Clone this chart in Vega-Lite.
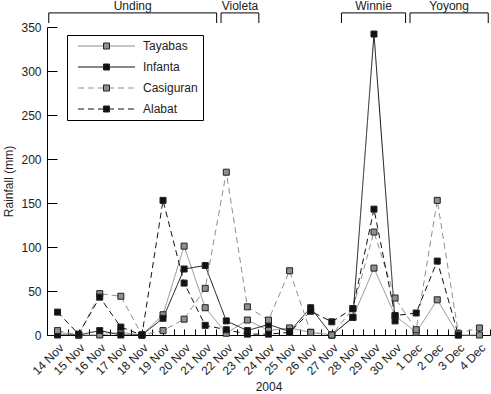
{
  "$schema": "https://vega.github.io/schema/vega-lite/v6.json",
  "width": 443,
  "height": 308,
  "autosize": {"type": "none"},
  "padding": {"left": 47, "top": 27, "right": 1, "bottom": 59},
  "config": {
    "font": "Liberation Sans",
    "view": {"stroke": null},
    "axis": {"grid": false, "domainColor": "#000", "tickColor": "#000", "labelColor": "#222", "titleColor": "#222", "labelFontSize": 12, "titleFontSize": 12, "titleFontWeight": "normal", "labelFont": "Liberation Sans", "titleFont": "Liberation Sans"},
    "legend": {"labelFont": "Liberation Sans"}
  },
  "datasets": {
    "rain": [
      {"date": "2004-11-14", "station": "Tayabas", "rain": 3},
      {"date": "2004-11-15", "station": "Tayabas", "rain": 0},
      {"date": "2004-11-16", "station": "Tayabas", "rain": 0},
      {"date": "2004-11-17", "station": "Tayabas", "rain": 3},
      {"date": "2004-11-18", "station": "Tayabas", "rain": 0},
      {"date": "2004-11-19", "station": "Tayabas", "rain": 23},
      {"date": "2004-11-20", "station": "Tayabas", "rain": 101},
      {"date": "2004-11-21", "station": "Tayabas", "rain": 31},
      {"date": "2004-11-22", "station": "Tayabas", "rain": 2},
      {"date": "2004-11-23", "station": "Tayabas", "rain": 17},
      {"date": "2004-11-24", "station": "Tayabas", "rain": 5},
      {"date": "2004-11-25", "station": "Tayabas", "rain": 8},
      {"date": "2004-11-26", "station": "Tayabas", "rain": 3},
      {"date": "2004-11-27", "station": "Tayabas", "rain": 0},
      {"date": "2004-11-28", "station": "Tayabas", "rain": 20},
      {"date": "2004-11-29", "station": "Tayabas", "rain": 76},
      {"date": "2004-11-30", "station": "Tayabas", "rain": 22},
      {"date": "2004-12-01", "station": "Tayabas", "rain": 3},
      {"date": "2004-12-02", "station": "Tayabas", "rain": 40},
      {"date": "2004-12-03", "station": "Tayabas", "rain": 0},
      {"date": "2004-12-04", "station": "Tayabas", "rain": 0},
      {"date": "2004-11-14", "station": "Infanta", "rain": 0},
      {"date": "2004-11-15", "station": "Infanta", "rain": 0},
      {"date": "2004-11-16", "station": "Infanta", "rain": 5},
      {"date": "2004-11-17", "station": "Infanta", "rain": 0},
      {"date": "2004-11-18", "station": "Infanta", "rain": 0},
      {"date": "2004-11-19", "station": "Infanta", "rain": 19},
      {"date": "2004-11-20", "station": "Infanta", "rain": 75},
      {"date": "2004-11-21", "station": "Infanta", "rain": 79},
      {"date": "2004-11-22", "station": "Infanta", "rain": 16},
      {"date": "2004-11-23", "station": "Infanta", "rain": 5},
      {"date": "2004-11-24", "station": "Infanta", "rain": 12},
      {"date": "2004-11-25", "station": "Infanta", "rain": 4},
      {"date": "2004-11-26", "station": "Infanta", "rain": 31},
      {"date": "2004-11-27", "station": "Infanta", "rain": 0},
      {"date": "2004-11-28", "station": "Infanta", "rain": 20},
      {"date": "2004-11-29", "station": "Infanta", "rain": 342},
      {"date": "2004-11-30", "station": "Infanta", "rain": 16},
      {"date": "2004-11-14", "station": "Casiguran", "rain": 5},
      {"date": "2004-11-15", "station": "Casiguran", "rain": 0},
      {"date": "2004-11-16", "station": "Casiguran", "rain": 47},
      {"date": "2004-11-17", "station": "Casiguran", "rain": 44},
      {"date": "2004-11-18", "station": "Casiguran", "rain": 0},
      {"date": "2004-11-19", "station": "Casiguran", "rain": 5},
      {"date": "2004-11-20", "station": "Casiguran", "rain": 18},
      {"date": "2004-11-21", "station": "Casiguran", "rain": 53},
      {"date": "2004-11-22", "station": "Casiguran", "rain": 185},
      {"date": "2004-11-23", "station": "Casiguran", "rain": 32},
      {"date": "2004-11-24", "station": "Casiguran", "rain": 17},
      {"date": "2004-11-25", "station": "Casiguran", "rain": 73},
      {"date": "2004-11-26", "station": "Casiguran", "rain": 3},
      {"date": "2004-11-27", "station": "Casiguran", "rain": 0},
      {"date": "2004-11-28", "station": "Casiguran", "rain": 30},
      {"date": "2004-11-29", "station": "Casiguran", "rain": 117},
      {"date": "2004-11-30", "station": "Casiguran", "rain": 42},
      {"date": "2004-12-01", "station": "Casiguran", "rain": 6},
      {"date": "2004-12-02", "station": "Casiguran", "rain": 153},
      {"date": "2004-12-03", "station": "Casiguran", "rain": 2},
      {"date": "2004-12-04", "station": "Casiguran", "rain": 8},
      {"date": "2004-11-14", "station": "Alabat", "rain": 26},
      {"date": "2004-11-15", "station": "Alabat", "rain": 1},
      {"date": "2004-11-16", "station": "Alabat", "rain": 43},
      {"date": "2004-11-17", "station": "Alabat", "rain": 9},
      {"date": "2004-11-18", "station": "Alabat", "rain": 0},
      {"date": "2004-11-19", "station": "Alabat", "rain": 153},
      {"date": "2004-11-20", "station": "Alabat", "rain": 59},
      {"date": "2004-11-21", "station": "Alabat", "rain": 11},
      {"date": "2004-11-22", "station": "Alabat", "rain": 6},
      {"date": "2004-11-23", "station": "Alabat", "rain": 1},
      {"date": "2004-11-24", "station": "Alabat", "rain": 1},
      {"date": "2004-11-25", "station": "Alabat", "rain": 3},
      {"date": "2004-11-26", "station": "Alabat", "rain": 27},
      {"date": "2004-11-27", "station": "Alabat", "rain": 15},
      {"date": "2004-11-28", "station": "Alabat", "rain": 30},
      {"date": "2004-11-29", "station": "Alabat", "rain": 143},
      {"date": "2004-11-30", "station": "Alabat", "rain": 22},
      {"date": "2004-12-01", "station": "Alabat", "rain": 25},
      {"date": "2004-12-02", "station": "Alabat", "rain": 84},
      {"date": "2004-12-03", "station": "Alabat", "rain": 0}
    ],
    "storms": [
      {"name": "Unding", "start": "2004-11-13T14:00:00Z", "end": "2004-11-21T13:00:00Z", "mid": "2004-11-17T13:30:00Z"},
      {"name": "Violeta", "start": "2004-11-21T18:00:00Z", "end": "2004-11-23T13:00:00Z", "mid": "2004-11-22T15:30:00Z"},
      {"name": "Winnie", "start": "2004-11-27T11:00:00Z", "end": "2004-11-30T12:00:00Z", "mid": "2004-11-28T23:30:00Z"},
      {"name": "Yoyong", "start": "2004-11-30T17:00:00Z", "end": "2004-12-04T10:00:00Z", "mid": "2004-12-02T13:30:00Z"}
    ]
  },
  "layer": [
    {
      "data": {"name": "rain"},
      "mark": {"type": "line", "strokeWidth": 1},
      "encoding": {
        "x": {
          "field": "date", "type": "temporal", "title": "2004",
          "scale": {"type": "utc", "domain": [{"year": 2004, "month": 11, "date": 13, "hours": 12, "utc": true}, {"year": 2004, "month": 12, "date": 4, "hours": 12, "utc": true}]},
          "axis": {
            "tickCount": 42,
            "tickSize": -6,
            "labelPadding": 13,
            "labelAngle": -45,
            "labelExpr": "utchours(datum.value) == 0 ? utcFormat(datum.value, '%-d %b') : ''",
            "labelOverlap": false,
            "labelFlush": false,
            "labelBound": false,
            "titlePadding": 5
          }
        },
        "y": {
          "field": "rain", "type": "quantitative", "title": "Rainfall (mm)",
          "scale": {"domain": [0, 350], "nice": false, "zero": true},
          "axis": {"values": [0, 50, 100, 150, 200, 250, 300, 350], "tickSize": -10, "labelPadding": 16, "titlePadding": 5}
        },
        "stroke": {
          "field": "station", "type": "nominal",
          "scale": {"domain": ["Tayabas", "Infanta", "Casiguran", "Alabat"], "range": ["#8f8f8f", "#111111", "#8f8f8f", "#111111"]},
          "legend": {"orient": "none", "legendX": 20, "legendY": 8, "title": null, "symbolType": "M-9.5,0H9.5", "symbolSize": 36, "symbolStrokeWidth": 1, "labelFontSize": 12, "labelColor": "#222", "strokeColor": "#000", "padding": 5, "rowPadding": 9, "symbolOffset": 28.5, "labelOffset": 30.5, "fillColor": "#fff"}
        },
        "strokeDash": {
          "field": "station", "type": "nominal",
          "scale": {"domain": ["Tayabas", "Infanta", "Casiguran", "Alabat"], "range": [[1, 0], [1, 0], [6, 4], [6, 4]]},
          "legend": {"orient": "none", "legendX": 20, "legendY": 8, "title": null, "symbolType": "M-9.5,0H9.5", "symbolSize": 36, "symbolStrokeWidth": 1, "labelFontSize": 12, "labelColor": "#222", "strokeColor": "#000", "padding": 5, "rowPadding": 9, "symbolOffset": 28.5, "labelOffset": 30.5, "fillColor": "#fff"}
        }
      }
    },
    {
      "data": {"name": "rain"},
      "mark": {"type": "point", "shape": "square", "filled": true, "size": 36, "stroke": "#222", "strokeWidth": 1, "opacity": 1},
      "encoding": {
        "x": {"field": "date", "type": "temporal", "title": "2004"},
        "y": {"field": "rain", "type": "quantitative", "title": "Rainfall (mm)"},
        "fill": {
          "field": "station", "type": "nominal",
          "sort": ["Tayabas", "Infanta", "Casiguran", "Alabat"],
          "scale": {"range": ["#8f8f8f", "#111111", "#8f8f8f", "#111111"]},
          "legend": {"orient": "none", "legendX": 20, "legendY": 8, "title": null, "symbolType": "square", "symbolSize": 36, "symbolStrokeColor": "#222", "symbolStrokeWidth": 1, "labelFontSize": 12, "labelOpacity": 0, "padding": 5, "rowPadding": 9, "symbolOffset": 28.5, "labelOffset": 30.5}
        }
      }
    },
    {
      "data": {"name": "storms"},
      "mark": {"type": "rule", "color": "#000", "strokeWidth": 1},
      "encoding": {
        "x": {"field": "start", "type": "temporal", "title": "2004"},
        "x2": {"field": "end"},
        "y": {"datum": 366}
      }
    },
    {
      "data": {"name": "storms"},
      "mark": {"type": "rule", "color": "#000", "strokeWidth": 1},
      "encoding": {
        "x": {"field": "start", "type": "temporal", "title": "2004"},
        "y": {"datum": 366},
        "y2": {"datum": 354.5}
      }
    },
    {
      "data": {"name": "storms"},
      "mark": {"type": "rule", "color": "#000", "strokeWidth": 1},
      "encoding": {
        "x": {"field": "end", "type": "temporal", "title": "2004"},
        "y": {"datum": 366},
        "y2": {"datum": 354.5}
      }
    },
    {
      "data": {"name": "storms"},
      "mark": {"type": "text", "fontSize": 12, "color": "#222", "baseline": "middle", "align": "center"},
      "encoding": {
        "x": {"field": "mid", "type": "temporal", "title": "2004"},
        "y": {"datum": 373.9},
        "text": {"field": "name"}
      }
    }
  ]
}
